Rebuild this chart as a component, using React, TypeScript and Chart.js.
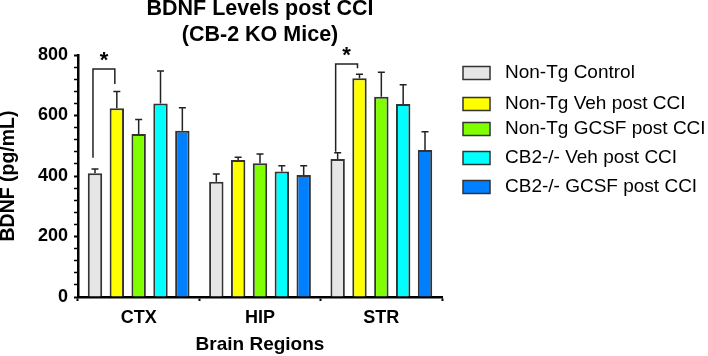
import React, { useEffect, useRef } from "react";
import { Chart, registerables } from "chart.js";

Chart.register(...registerables);

const categories = ["CTX", "HIP", "STR"];
const seriesLabels = [
  "Non-Tg Control",
  "Non-Tg Veh post CCI",
  "Non-Tg GCSF post CCI",
  "CB2-/- Veh post CCI",
  "CB2-/- GCSF post CCI",
];
const nonTgControl = [409, 381, 456];
const nonTgVeh = [624, 453, 723];
const nonTgGcsf = [539, 442, 662];
const cb2Veh = [640, 415, 638];
const cb2Gcsf = [550, 403, 486];
const nonTgControlErr = [14, 26, 21];
const nonTgVehErr = [55, 9, 13];
const nonTgGcsfErr = [48, 31, 81];
const cb2VehErr = [107, 19, 64];
const cb2GcsfErr = [76, 31, 60];
const colors = ["#e6e6e6", "#ffff00", "#80ff00", "#00ffff", "#0080ff"];
const yTickLabels = [0, 200, 400, 600, 800];
// significance brackets: category index, top value, left bottom, right bottom
const sigCategory = [0, 2];
const sigTop = [754, 770];
const sigLeftBottom = [460, 480];
const sigRightBottom = [704, 756];

const FONT = "'Liberation Sans', Arial, Helvetica, sans-serif";

const errorBarPlugin = {
  id: "errorBars",
  afterDatasetsDraw(chart: any) {
    const ctx = chart.ctx;
    const y = chart.scales.y;
    ctx.save();
    ctx.strokeStyle = "#222";
    ctx.lineWidth = 1.5;
    chart.data.datasets.forEach((ds: any, di: number) => {
      const meta = chart.getDatasetMeta(di);
      meta.data.forEach((el: any, i: number) => {
        const top = y.getPixelForValue(ds.data[i] + ds.errors[i]);
        ctx.beginPath();
        ctx.moveTo(el.x, el.y);
        ctx.lineTo(el.x, top);
        ctx.moveTo(el.x - 3.5, top);
        ctx.lineTo(el.x + 3.5, top);
        ctx.stroke();
      });
    });
    sigCategory.forEach((ci, k) => {
      const a = chart.getDatasetMeta(0).data[ci];
      const b = chart.getDatasetMeta(1).data[ci];
      const xl = a.x - 2;
      const xr = b.x - 2;
      const yt = y.getPixelForValue(sigTop[k]);
      ctx.beginPath();
      ctx.moveTo(xl, y.getPixelForValue(sigLeftBottom[k]));
      ctx.lineTo(xl, yt);
      ctx.lineTo(xr, yt);
      ctx.lineTo(xr, y.getPixelForValue(sigRightBottom[k]));
      ctx.stroke();
      ctx.fillStyle = "#000";
      ctx.font = `bold 22px ${FONT}`;
      ctx.textAlign = "center";
      ctx.textBaseline = "alphabetic";
      ctx.fillText("*", (xl + xr) / 2, yt - 2);
    });
    ctx.restore();
  },
};

const legendPlugin = {
  id: "customLegend",
  afterDraw(chart: any) {
    const ctx = chart.ctx;
    ctx.save();
    const rows = [73, 104, 129, 158, 187];
    chart.data.datasets.forEach((ds: any, i: number) => {
      const cy = rows[i];
      ctx.fillStyle = ds.backgroundColor;
      ctx.fillRect(463, cy - 6.5, 27, 13);
      ctx.strokeStyle = "#333";
      ctx.lineWidth = 1.5;
      ctx.strokeRect(463, cy - 6.5, 27, 13);
      ctx.fillStyle = "#000";
      ctx.font = `19px ${FONT}`;
      ctx.textAlign = "left";
      ctx.textBaseline = "middle";
      ctx.fillText(ds.label, 505, cy);
    });
    ctx.restore();
  },
};

export default function App() {
  const ref = useRef<HTMLCanvasElement | null>(null);
  useEffect(() => {
    if (!ref.current) return;
    const values = [nonTgControl, nonTgVeh, nonTgGcsf, cb2Veh, cb2Gcsf];
    const errs = [nonTgControlErr, nonTgVehErr, nonTgGcsfErr, cb2VehErr, cb2GcsfErr];
    const chart = new Chart(ref.current, {
      type: "bar",
      data: {
        labels: categories,
        datasets: values.map((v, i) => ({
          label: seriesLabels[i],
          data: v,
          errors: errs[i],
          backgroundColor: colors[i],
          borderColor: "#333",
          borderWidth: 2,
          categoryPercentage: 0.9,
          barPercentage: 0.66,
        })) as any,
      },
      options: {
        animation: false,
        responsive: false,
        devicePixelRatio: 1,
        layout: { padding: { left: 0, right: 266, top: 0, bottom: 0 } },
        plugins: {
          legend: { display: false },
          tooltip: { enabled: false },
          title: {
            display: true,
            fullSize: false,
            text: ["BDNF Levels post CCI", "(CB-2 KO Mice)"],
            color: "#000",
            font: { family: FONT, size: 21.5, weight: "bold", lineHeight: 1.2 },
            padding: { top: -3.5, bottom: 6.9 },
          },
        },
        scales: {
          x: {
            afterFit: (s: any) => { s.height = 59; },
            grid: { display: true, drawOnChartArea: false, drawTicks: true, tickLength: 4, tickColor: "#000", tickWidth: 2 },
            border: { display: true, color: "#000", width: 2.5 },
            ticks: { color: "#000", padding: 6, font: { family: FONT, size: 18, weight: "bold" } },
            title: {
              display: true,
              text: "Brain Regions",
              color: "#000",
              font: { family: FONT, size: 19, weight: "bold", lineHeight: 1.2 },
              padding: { top: 0, bottom: 0 },
            },
          },
          y: {
            min: 0,
            max: 800,
            afterFit: (s: any) => { s.width = 78; },
            grid: {
              display: true,
              drawOnChartArea: false,
              drawTicks: true,
              tickLength: 4,
              tickColor: "#000",
              tickWidth: (c: any) => (yTickLabels.includes(c.tick?.value) ? 2 : 1.5),
            },
            border: { display: true, color: "#000", width: 2.5 },
            ticks: {
              stepSize: 40,
              autoSkip: false,
              color: "#000",
              padding: 6,
              font: { family: FONT, size: 18, weight: "bold" },
              callback: (v: any) => (yTickLabels.includes(Number(v)) ? String(v) : ""),
            },
            title: {
              display: true,
              text: "BDNF (pg/mL)",
              color: "#000",
              font: { family: FONT, size: 19.5, weight: "bold", lineHeight: 0.9 },
              padding: { top: 0, bottom: 0 },
            },
          },
        },
      } as any,
      plugins: [errorBarPlugin, legendPlugin],
    });
    return () => chart.destroy();
  }, []);
  return (
    <div style={{ position: "absolute", left: 0, top: 0, width: 708, height: 356, background: "#fff" }}>
      <canvas ref={ref} width={708} height={356} style={{ width: 708, height: 356 }} />
    </div>
  );
}
